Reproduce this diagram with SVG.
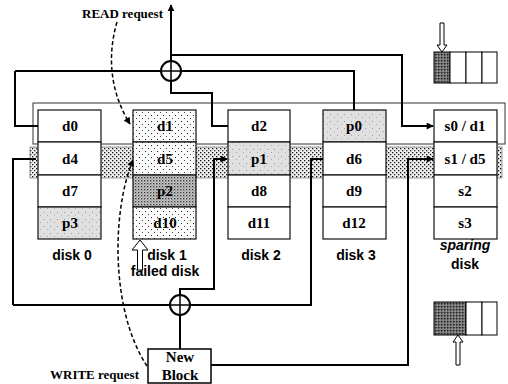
<svg xmlns="http://www.w3.org/2000/svg" width="508" height="384" viewBox="0 0 508 384">
<defs>
<pattern id="sparse" width="6" height="6" patternUnits="userSpaceOnUse">
<rect width="6" height="6" fill="#fbfbfb"/>
<rect x="1" y="1" width="1" height="1" fill="#222"/>
<rect x="4" y="4" width="1" height="1" fill="#444"/>
</pattern>
<pattern id="band" width="4" height="4" patternUnits="userSpaceOnUse">
<rect width="4" height="4" fill="#eeeeee"/>
<rect x="0" y="0" width="1.3" height="1.3" fill="#111"/>
<rect x="2" y="2" width="1.3" height="1.3" fill="#222"/>
</pattern>
<pattern id="dense" width="3" height="3" patternUnits="userSpaceOnUse">
<rect width="3" height="3" fill="#c8c8c8"/>
<rect x="0" y="0" width="1.3" height="1.3" fill="#333"/>
<rect x="1.5" y="1.5" width="1" height="1" fill="#666"/>
</pattern>
<pattern id="parity" width="7" height="7" patternUnits="userSpaceOnUse">
<rect width="7" height="7" fill="#e0e0e0"/>
<rect x="1" y="2" width="1" height="1" fill="#999"/>
<rect x="5" y="5" width="1" height="1" fill="#aaa"/>
</pattern>
<pattern id="dark" width="3" height="3" patternUnits="userSpaceOnUse">
<rect width="3" height="3" fill="#777"/>
<rect x="0" y="0" width="1.5" height="1.5" fill="#222"/>
<rect x="1.5" y="1.5" width="1" height="1" fill="#bbb"/>
</pattern>
<marker id="arr" viewBox="0 0 10 10" refX="9" refY="5" markerWidth="8" markerHeight="7" markerUnits="userSpaceOnUse" orient="auto">
<path d="M0,0 L10,5 L0,10 z" fill="#000"/>
</marker>
<marker id="arrs" viewBox="0 0 10 10" refX="9" refY="5" markerWidth="7" markerHeight="7" markerUnits="userSpaceOnUse" orient="auto">
<path d="M0,0 L10,5 L0,10 z" fill="#000"/>
</marker>
</defs>
<style>
.cell{stroke:#111;stroke-width:1.2}
.ct{font-family:"Liberation Serif",serif;font-weight:bold;font-size:15px;text-anchor:middle;fill:#000}
.dl{font-family:"Liberation Sans",sans-serif;font-weight:bold;font-size:14px;text-anchor:middle;fill:#000}
.rq{font-family:"Liberation Serif",serif;font-weight:bold;font-size:13px;fill:#000}
.ln{fill:none;stroke:#000;stroke-width:2}
.dash{fill:none;stroke:#000;stroke-width:1.5;stroke-dasharray:4,2.5}
.xor{fill:#fff;stroke:#000;stroke-width:2}
.hol{fill:#fff;stroke:#000;stroke-width:1}
</style>

<g id="stripes">
<rect x="33" y="103" width="472" height="41" fill="none" stroke="#333" stroke-width="1"/>
<rect x="30" y="147" width="472" height="31" fill="url(#band)" stroke="#555" stroke-width="0.6"/>
</g>

<g id="disk0">
<rect class="cell" x="38" y="110" width="63" height="32" fill="#fff"/>
<rect class="cell" x="38" y="142" width="63" height="33" fill="#fff"/>
<rect class="cell" x="38" y="175" width="63" height="32" fill="#fff"/>
<rect class="cell" x="38" y="207" width="63" height="32" fill="url(#parity)"/>
<text class="ct" x="70" y="131">d0</text>
<text class="ct" x="70" y="164">d4</text>
<text class="ct" x="70" y="196">d7</text>
<text class="ct" x="70" y="228">p3</text>
<text class="dl" x="72" y="260">disk 0</text>
</g>

<g id="disk1">
<rect class="cell" x="133" y="110" width="63" height="32" fill="url(#sparse)"/>
<rect class="cell" x="133" y="142" width="63" height="33" fill="url(#sparse)"/>
<rect class="cell" x="133" y="175" width="63" height="32" fill="url(#dense)"/>
<rect class="cell" x="133" y="207" width="63" height="32" fill="url(#sparse)"/>
<text class="ct" x="165" y="131">d1</text>
<text class="ct" x="165" y="164">d5</text>
<text class="ct" x="165" y="196">p2</text>
<text class="ct" x="165" y="228">d10</text>
<text class="dl" x="167" y="260">disk 1</text>
<text class="dl" x="165" y="276">failed disk</text>
<polygon class="hol" points="140,240 148,250 142.5,250 142.5,270 137.5,270 137.5,250 132,250"/>
</g>

<g id="disk2">
<rect class="cell" x="228" y="110" width="62" height="32" fill="#fff"/>
<rect class="cell" x="228" y="142" width="62" height="33" fill="url(#parity)"/>
<rect class="cell" x="228" y="175" width="62" height="32" fill="#fff"/>
<rect class="cell" x="228" y="207" width="62" height="32" fill="#fff"/>
<text class="ct" x="259" y="131">d2</text>
<text class="ct" x="259" y="164">p1</text>
<text class="ct" x="259" y="196">d8</text>
<text class="ct" x="259" y="228">d11</text>
<text class="dl" x="261" y="260">disk 2</text>
</g>

<g id="disk3">
<rect class="cell" x="323" y="110" width="63" height="32" fill="url(#parity)"/>
<rect class="cell" x="323" y="142" width="63" height="33" fill="#fff"/>
<rect class="cell" x="323" y="175" width="63" height="32" fill="#fff"/>
<rect class="cell" x="323" y="207" width="63" height="32" fill="#fff"/>
<text class="ct" x="354" y="131">p0</text>
<text class="ct" x="354" y="164">d6</text>
<text class="ct" x="354" y="196">d9</text>
<text class="ct" x="354" y="228">d12</text>
<text class="dl" x="356" y="260">disk 3</text>
</g>

<g id="sparing">
<rect class="cell" x="434" y="110" width="63" height="32" fill="#fff"/>
<rect class="cell" x="434" y="142" width="63" height="33" fill="#fff"/>
<rect class="cell" x="434" y="175" width="63" height="32" fill="#fff"/>
<rect class="cell" x="434" y="207" width="63" height="32" fill="#fff"/>
<text class="ct" x="465" y="131">s0 / d1</text>
<text class="ct" x="465" y="164">s1 / d5</text>
<text class="ct" x="465" y="196">s2</text>
<text class="ct" x="465" y="228">s3</text>
<text class="dl" x="465" y="250" font-style="italic">sparing</text>
<text class="dl" x="465" y="269">disk</text>
</g>

<g id="buffer-top">
<rect x="434" y="52" width="16" height="31" fill="url(#dark)" stroke="#000" stroke-width="1"/>
<rect x="450" y="52" width="16" height="31" fill="#fff" stroke="#000" stroke-width="1"/>
<rect x="466" y="52" width="16" height="31" fill="#fff" stroke="#000" stroke-width="1"/>
<rect x="482" y="52" width="15" height="31" fill="#fff" stroke="#000" stroke-width="1"/>
<polygon class="hol" points="442,52 447,45 444,45 444,23 440,23 440,45 437,45"/>
</g>

<g id="buffer-bottom">
<rect x="434" y="302" width="32" height="33" fill="url(#dark)" stroke="#000" stroke-width="1"/>
<rect x="466" y="302" width="16" height="33" fill="#fff" stroke="#000" stroke-width="1"/>
<rect x="482" y="302" width="15" height="33" fill="#fff" stroke="#000" stroke-width="1"/>
<polygon class="hol" points="458,335 463,342 460,342 460,365 456,365 456,342 453,342"/>
</g>

<g id="new-block">
<rect x="148" y="349" width="63" height="34" fill="#fff" stroke="#000" stroke-width="1.5"/>
<text class="ct" x="180" y="362" font-size="14">New</text>
<text class="ct" x="180" y="380" font-size="14">Block</text>
</g>

<g id="connectors">
<path class="ln" d="M171,61 V5" marker-end="url(#arrs)"/>
<path class="ln" d="M171,55 H402 V126 H433" marker-end="url(#arr)"/>
<path class="ln" d="M15,71 H354 V110"/>
<path class="ln" d="M15,71 V126 H38"/>
<path class="ln" d="M171,81 V93 H212 V126 H228"/>
<path class="ln" d="M13,305 H311 V159 H323"/>
<path class="ln" d="M13,305 V159 H36"/>
<path class="ln" d="M180,295 V289 H214 V159 H227" marker-end="url(#arr)"/>
<path class="ln" d="M180,315 V349"/>
<path class="ln" d="M211,365 H408 V159 H433" marker-end="url(#arr)"/>
<path class="dash" d="M117,22 C106,60 112,95 130,124" marker-end="url(#arr)"/>
<path class="dash" d="M147,366 C110,310 112,210 133,160" marker-end="url(#arr)"/>
</g>

<g id="xor-read">
<circle class="xor" cx="171" cy="71" r="10"/>
<path d="M161,71 H181 M171,61 V81" stroke="#000" stroke-width="1.5"/>
</g>
<g id="xor-write">
<circle class="xor" cx="180" cy="305" r="10"/>
<path d="M170,305 H190 M180,295 V315" stroke="#000" stroke-width="1.5"/>
</g>

<g id="labels">
<text class="rq" x="82" y="18">READ request</text>
<text class="rq" x="50" y="379">WRITE request</text>
</g>
</svg>
